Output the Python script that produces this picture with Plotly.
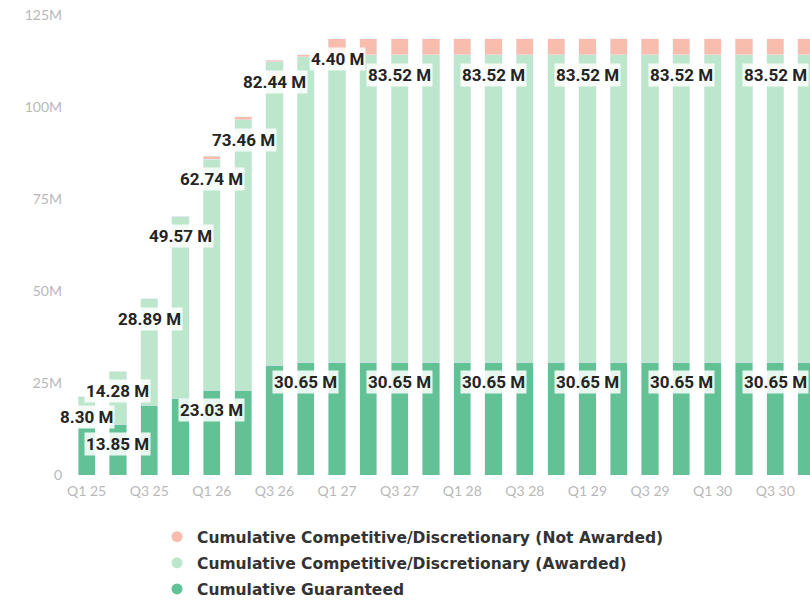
import plotly.graph_objects as go

# Quarterly cumulative funding, in millions
quarters = [
    "Q1 25", "Q2 25", "Q3 25", "Q4 25",
    "Q1 26", "Q2 26", "Q3 26", "Q4 26",
    "Q1 27", "Q2 27", "Q3 27", "Q4 27",
    "Q1 28", "Q2 28", "Q3 28", "Q4 28",
    "Q1 29", "Q2 29", "Q3 29", "Q4 29",
    "Q1 30", "Q2 30", "Q3 30", "Q4 30",
]
guaranteed = [
    13.0, 13.85, 19.0, 20.8,
    23.03, 23.03, 29.8, 30.65,
    30.65, 30.65, 30.65, 30.65,
    30.65, 30.65, 30.65, 30.65,
    30.65, 30.65, 30.65, 30.65,
    30.65, 30.65, 30.65, 30.65,
]
awarded = [
    8.30, 14.28, 28.89, 49.57,
    62.74, 73.46, 82.44, 83.0,
    83.52, 83.52, 83.52, 83.52,
    83.52, 83.52, 83.52, 83.52,
    83.52, 83.52, 83.52, 83.52,
    83.52, 83.52, 83.52, 83.52,
]
not_awarded = [
    0.0, 0.0, 0.0, 0.0,
    0.8, 0.8, 0.5, 0.5,
    4.40, 4.40, 4.40, 4.40,
    4.40, 4.40, 4.40, 4.40,
    4.40, 4.40, 4.40, 4.40,
    4.40, 4.40, 4.40, 4.40,
]

# Which bars carry a data label, per series
labelled_guaranteed = ["Q2 25", "Q1 26", "Q4 26", "Q3 27", "Q2 28", "Q1 29", "Q4 29", "Q3 30"]
labelled_awarded = ["Q1 25", "Q2 25", "Q3 25", "Q4 25", "Q1 26", "Q2 26", "Q3 26",
                    "Q3 27", "Q2 28", "Q1 29", "Q4 29", "Q3 30"]
labelled_not_awarded = ["Q1 27"]

y_ticks = [0, 25, 50, 75, 100, 125]
y_tick_text = ["0", "25M", "50M", "75M", "100M", "125M"]
x_tick_labels = quarters[::2]

names = {
    "na": "Cumulative Competitive/Discretionary (Not Awarded)",
    "aw": "Cumulative Competitive/Discretionary (Awarded)",
    "gu": "Cumulative Guaranteed",
}
colors = {"na": "#f8bdad", "aw": "#bde7cc", "gu": "#62c296"}

x_idx = list(range(len(quarters)))

fig = go.Figure()
fig.add_bar(x=x_idx, y=guaranteed, name=names["gu"], marker_color=colors["gu"],
            showlegend=False)
fig.add_bar(x=x_idx, y=awarded, name=names["aw"], marker_color=colors["aw"],
            showlegend=False)
fig.add_bar(x=x_idx, y=not_awarded, name=names["na"], marker_color=colors["na"],
            showlegend=False)

# Legend entries with round swatches
for i, key in enumerate(["na", "aw", "gu"]):
    fig.add_scatter(x=[None], y=[None], mode="markers", name=names[key],
                    legendgroup=key, legendrank=i,
                    marker=dict(symbol="circle", size=11, color=colors[key]))

# Data labels sit just inside the top of their segment
def add_labels(values, base, labelled):
    for q in labelled:
        i = quarters.index(q)
        top = base[i] + values[i]
        fig.add_annotation(
            x=i, y=top, yshift=-20, text=f"{values[i]:.2f} M",
            showarrow=False, xanchor="center", yanchor="middle",
            font=dict(family="Roboto", size=17, color="#252423", weight="bold"),
            bgcolor="rgba(255,255,255,0.85)", borderpad=1,
        )

zeros = [0.0] * len(quarters)
add_labels(guaranteed, zeros, labelled_guaranteed)
add_labels(awarded, guaranteed, labelled_awarded)
add_labels(not_awarded, [g + a for g, a in zip(guaranteed, awarded)], labelled_not_awarded)

fig.update_layout(
    width=810, height=600,
    margin=dict(l=71, r=0, t=15, b=125, autoexpand=False),
    barmode="stack", bargap=0.45,
    plot_bgcolor="white", paper_bgcolor="white",
    xaxis=dict(
        range=[-0.5, 23.11],
        tickmode="array",
        tickvals=[quarters.index(q) for q in x_tick_labels],
        ticktext=x_tick_labels,
        tickfont=dict(family="Lato", size=14, color="#b8b8b8"),
        showgrid=False, zeroline=False, showline=False, ticks="",
        ticklabelstandoff=6,
    ),
    yaxis=dict(
        range=[0, 125],
        tickmode="array", tickvals=y_ticks, ticktext=y_tick_text,
        tickfont=dict(family="Lato", size=14, color="#b8b8b8"),
        showgrid=False, zeroline=False, showline=False, ticks="",
        ticklabelstandoff=8,
    ),
    legend=dict(
        orientation="v",
        x=(157 - 71) / 739, xanchor="left",
        y=-0.098, yanchor="top",
        traceorder="grouped", tracegroupgap=3,
        font=dict(family="DejaVu Sans", size=15.5, color="#333333", weight="bold"),
        itemclick=False, itemdoubleclick=False,
    ),
)

fig.write_html("out.html")
